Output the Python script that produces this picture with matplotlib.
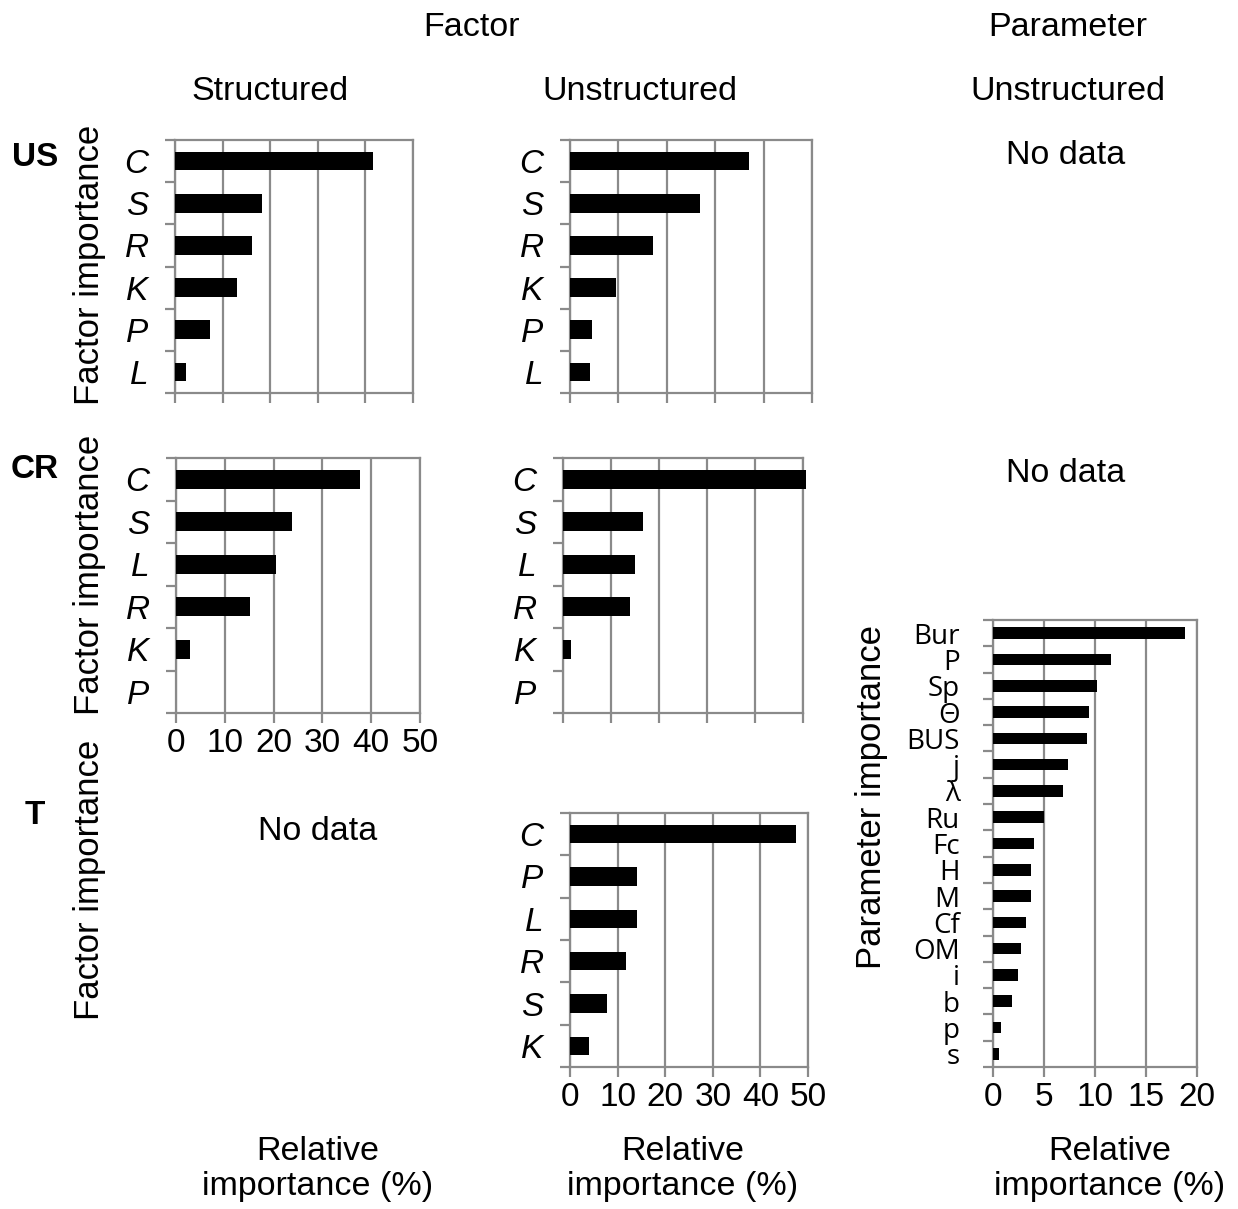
import numpy as np
import matplotlib.pyplot as plt

plt.rcParams['font.family'] = ['Liberation Sans', 'DejaVu Sans']

# US
us_s_lab = ['C', 'S', 'R', 'K', 'P', 'L']
us_s_val = [41.7, 18.3, 16.2, 13.0, 7.4, 2.4]
us_u_lab = ['C', 'S', 'R', 'K', 'P', 'L']
us_u_val = [36.9, 26.9, 17.1, 9.5, 4.6, 4.1]

# CR
cr_s_lab = ['C', 'S', 'L', 'R', 'K', 'P']
cr_s_val = [37.7, 23.8, 20.5, 15.2, 2.9, 0]
cr_u_lab = ['C', 'S', 'L', 'R', 'K', 'P']
cr_u_val = [50.6, 16.7, 15.1, 14.0, 1.7, 0]

# T
t_u_lab = ['C', 'P', 'L', 'R', 'S', 'K']
t_u_val = [47.5, 14.0, 14.0, 11.7, 7.8, 4.0]

# parameter importance
par_lab = ['Bur', 'P', 'Sp', 'Θ', 'BUS', 'j', 'λ', 'Ru', 'Fc', 'H', 'M',
           'Cf', 'OM', 'i', 'b', 'p', 's']
par_val = [18.85, 11.6, 10.2, 9.4, 9.2, 7.4, 6.9, 5.0, 4.0, 3.7, 3.7,
           3.2, 2.7, 2.5, 1.9, 0.8, 0.6]

gray = '#8a8a8a'
W, H = 1238, 1209
fig = plt.figure(figsize=(W / 100, H / 100), dpi=100)


def box(l, t, r, b):
    return [l / W, 1 - b / H, (r - l) / W, (b - t) / H]


def panel(rect, labels, values, xmax, step, show_x, param=False):
    ax = fig.add_axes(rect)
    y = np.arange(len(labels))
    ax.barh(y, values, height=0.44, color='black', zorder=3, clip_on=False)
    ax.set_xlim(0, xmax)
    ax.set_ylim(len(labels) - 0.5, -0.5)
    ax.set_xticks(np.arange(0, xmax + 1, step))
    ax.grid(axis='x', color=gray, linewidth=1.6)
    ax.set_axisbelow(True)
    ax.set_yticks(y)
    if param:
        ax.set_yticklabels(labels, family=['Open Sans', 'DejaVu Sans'], fontsize=20)
        pad = 24
    else:
        ax.set_yticklabels(labels, style='italic', fontsize=24)
        pad = 19
    ax.set_yticks(np.arange(len(labels) + 1) - 0.5, minor=True)
    ax.tick_params(axis='y', which='major', length=0, pad=pad)
    ax.tick_params(axis='y', which='minor', length=7, width=1.6, color=gray)
    ax.tick_params(axis='x', length=7, width=1.6, color=gray, labelsize=24, pad=4)
    if not show_x:
        ax.set_xticklabels([])
    for s in ax.spines.values():
        s.set_color(gray)
        s.set_linewidth(1.6)
    return ax


panel(box(175, 140, 413, 393), us_s_lab, us_s_val, 50, 10, False)
panel(box(570, 140, 812, 393), us_u_lab, us_u_val, 50, 10, False)
panel(box(176, 458, 420, 713), cr_s_lab, cr_s_val, 50, 10, True)
panel(box(563, 458, 803, 713), cr_u_lab, cr_u_val, 50, 10, False)
panel(box(570, 813, 808, 1067), t_u_lab, t_u_val, 50, 10, True)
panel(box(993, 620, 1197, 1067), par_lab, par_val, 20, 5, True, param=True)


def txt(x, y, s, **kw):
    kw.setdefault('fontsize', 24.5)
    fig.text(x / W, 1 - y / H, s, ha='center', va='center', **kw)


txt(471, 27, 'Factor')
txt(1068, 27, 'Parameter')
txt(270, 92, 'Structured')
txt(640, 92, 'Unstructured')
txt(1068, 92, 'Unstructured')

txt(35, 157, 'US', fontweight='bold', fontsize=24)
txt(35, 470, 'CR', fontweight='bold', fontsize=24)
txt(35, 815, 'T', fontweight='bold', fontsize=24)

txt(1066, 155, 'No data')
txt(1066, 473, 'No data')
txt(318, 832, 'No data')

for yc in [265, 575, 880]:
    txt(90, yc, 'Factor importance', rotation=90, fontsize=25)
txt(872, 797, 'Parameter importance', rotation=90, fontsize=25)

for xc in [318, 683, 1110]:
    txt(xc, 1169, 'Relative\nimportance (%)', linespacing=1.15)

fig.savefig('out.png', dpi=100)
